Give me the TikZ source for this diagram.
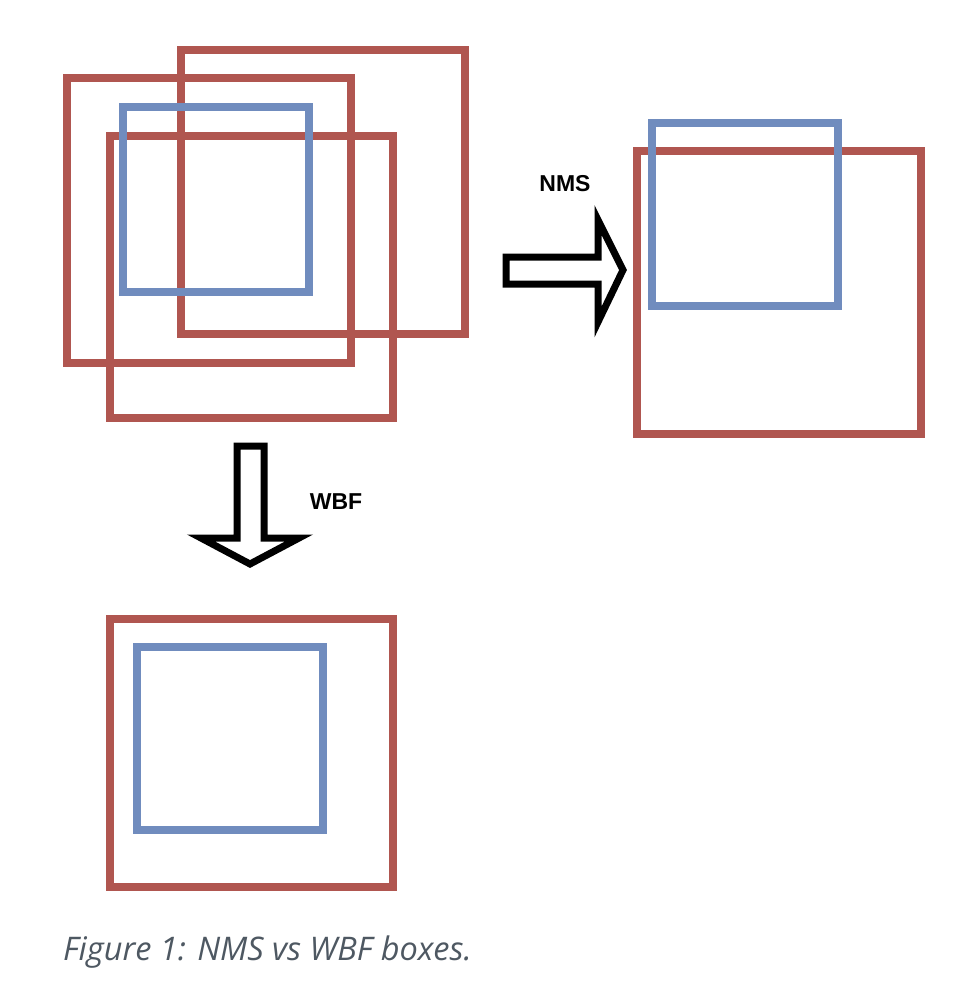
\documentclass[tikz,border=0pt]{standalone}
\usepackage{fontspec}
\setmainfont{Liberation Sans}
\newfontfamily\capfont{Open Sans}
\usetikzlibrary{positioning}
\definecolor{boxred}{RGB}{176,86,80}
\definecolor{boxblue}{RGB}{112,140,190}
\definecolor{capgrey}{RGB}{78,88,98}

\begin{document}
\begin{tikzpicture}[x=1pt,y=-1pt,
        redbox/.style={draw=boxred,line width=8pt},
        bluebox/.style={draw=boxblue,line width=8pt},
        blockarrow/.style={draw=black,fill=white,line width=7pt,line join=miter},
        lbl/.style={font=\bfseries\fontsize{23}{23}\selectfont}]

  \useasboundingbox (0,0) rectangle (980,986);

  % input boxes
  \draw[redbox] (67,78) rectangle (351,363);
  \draw[redbox] (181,50) rectangle (465,334);
  \draw[redbox] (110,136) rectangle (393,418);
  \draw[bluebox] (123,107) rectangle (309,292);

  % NMS result
  \draw[redbox] (637,151) rectangle (921,434);
  \draw[bluebox] (652,123) rectangle (838,306);

  % WBF result
  \draw[redbox] (110,619) rectangle (393,887);
  \draw[bluebox] (137,647) rectangle (323,830);

  % arrows
  \draw[blockarrow] (506,257) -- (598,257) -- (598,220) -- (623,270)
        -- (598,322) -- (598,284) -- (506,284) -- cycle;
  \draw[blockarrow] (237,446) -- (264,446) -- (264,538) -- (299,538)
        -- (250,564) -- (201,538) -- (237,538) -- cycle;

  \node[lbl] (nms) at (565,184) {NMS};
  \node[lbl] (wbf) at (336,502) {WBF};

  \node[anchor=base west,text=capgrey,inner sep=0pt,
        font=\capfont\itshape\fontsize{32.5}{32.5}\selectfont] (cap) at (63,960)
        {Figure 1: NMS vs WBF boxes.};

\end{tikzpicture}
\end{document}
